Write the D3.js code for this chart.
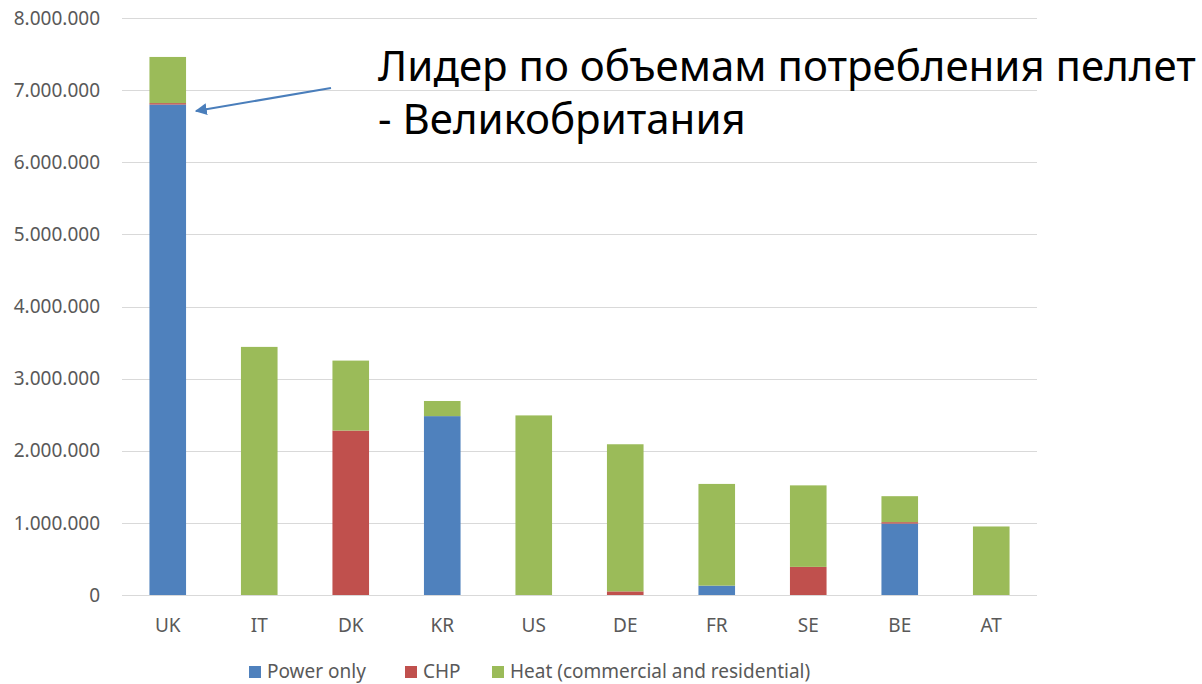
<!DOCTYPE html>
<html>
<head>
<meta charset="utf-8">
<script src="https://cdn.jsdelivr.net/npm/d3@7"></script>
<style>
  html, body { margin: 0; padding: 0; background: #fff; }
  svg { display: block; font-family: "Noto Sans", "Open Sans", sans-serif; }
</style>
</head>
<body>
<div id="chart"></div>
<script>
// chart data
const countries = ["UK", "IT", "DK", "KR", "US", "DE", "FR", "SE", "BE", "AT"];
const powerOnly = [6800000, 0, 0, 2480000, 0, 0, 130000, 0, 990000, 0];
const chp = [20000, 0, 2280000, 0, 0, 50000, 0, 390000, 20000, 0];
const heat = [640000, 3440000, 970000, 210000, 2490000, 2040000, 1410000, 1130000, 360000, 950000];
const seriesNames = ["Power only", "CHP", "Heat (commercial and residential)"];
const seriesColors = ["#4f81bd", "#c0504d", "#9bbb59"];
const yTicks = [0, 1000000, 2000000, 3000000, 4000000, 5000000, 6000000, 7000000, 8000000];
const noteLines = ["Лидер по объемам потребления пеллет", "- Великобритания"];

const width = 1202, height = 684;
const margin = { left: 122, right: 165, top: 18, bottom: 89 };

const svg = d3.select("#chart").append("svg")
  .attr("width", width)
  .attr("height", height);

const x = d3.scaleBand()
  .domain(countries)
  .range([margin.left, width - margin.right])
  .paddingInner(0.6)
  .paddingOuter(0.3);

const y = d3.scaleLinear()
  .domain([0, 8000000])
  .range([height - margin.bottom, margin.top]);

const locale = d3.formatLocale({ decimal: ",", thousands: ".", grouping: [3], currency: ["", ""] });
const fmt = locale.format(",d");

// gridlines
svg.append("g")
  .selectAll("line")
  .data(yTicks)
  .enter().append("line")
  .attr("x1", margin.left)
  .attr("x2", width - margin.right)
  .attr("y1", d => Math.round(y(d)) + 0.5)
  .attr("y2", d => Math.round(y(d)) + 0.5)
  .attr("stroke", "#d9d9d9")
  .attr("stroke-width", 1);

// y labels
svg.append("g")
  .selectAll("text")
  .data(yTicks)
  .enter().append("text")
  .attr("x", 100)
  .attr("y", d => y(d))
  .attr("dy", "0.35em")
  .attr("text-anchor", "end")
  .attr("fill", "#595959")
  .style("font-size", "19px")
  .text(d => fmt(d));

// stacked bars
const rows = countries.map((c, i) => ({ country: c, p: powerOnly[i], c: chp[i], h: heat[i] }));
const stack = d3.stack().keys(["p", "c", "h"]);
const layers = stack(rows);

svg.append("g")
  .selectAll("g")
  .data(layers)
  .enter().append("g")
  .attr("fill", (d, i) => seriesColors[i])
  .selectAll("rect")
  .data(d => d.filter(s => s[1] - s[0] > 0))
  .enter().append("rect")
  .attr("x", d => x(d.data.country))
  .attr("width", x.bandwidth())
  .attr("y", d => y(d[1]))
  .attr("height", d => y(d[0]) - y(d[1]));

// x labels
svg.append("g")
  .selectAll("text")
  .data(countries)
  .enter().append("text")
  .attr("x", d => x(d) + x.bandwidth() / 2)
  .attr("y", 625)
  .attr("dy", "0.35em")
  .attr("text-anchor", "middle")
  .attr("fill", "#595959")
  .style("font-size", "19px")
  .text(d => d);

// legend
const legendX = [249, 405, 492];
const legend = svg.append("g")
  .selectAll("g")
  .data(seriesNames)
  .enter().append("g")
  .attr("transform", (d, i) => "translate(" + legendX[i] + ",671)");

legend.append("rect")
  .attr("x", 0)
  .attr("y", -5)
  .attr("width", 12)
  .attr("height", 12)
  .attr("fill", (d, i) => seriesColors[i]);

legend.append("text")
  .attr("x", 18)
  .attr("y", 0)
  .attr("dy", "0.35em")
  .attr("fill", "#595959")
  .style("font-size", "19px")
  .text(d => d);

// annotation
svg.append("defs").append("marker")
  .attr("id", "arrowhead")
  .attr("viewBox", "0 0 10 10")
  .attr("refX", 9)
  .attr("refY", 5)
  .attr("markerWidth", 6)
  .attr("markerHeight", 6)
  .attr("orient", "auto")
  .append("path")
  .attr("d", "M0,0 L10,5 L0,10 Z")
  .attr("fill", "#4a7ebb");

svg.append("line")
  .attr("x1", 331)
  .attr("y1", 88)
  .attr("x2", 196)
  .attr("y2", 111)
  .attr("stroke", "#4a7ebb")
  .attr("stroke-width", 2)
  .attr("marker-end", "url(#arrowhead)");

svg.append("g")
  .selectAll("text")
  .data(noteLines)
  .enter().append("text")
  .attr("x", 378)
  .attr("y", (d, i) => 81 + i * 53)
  .attr("fill", "#000")
  .style("font-size", "42px")
  .text(d => d);
</script>
</body>
</html>
